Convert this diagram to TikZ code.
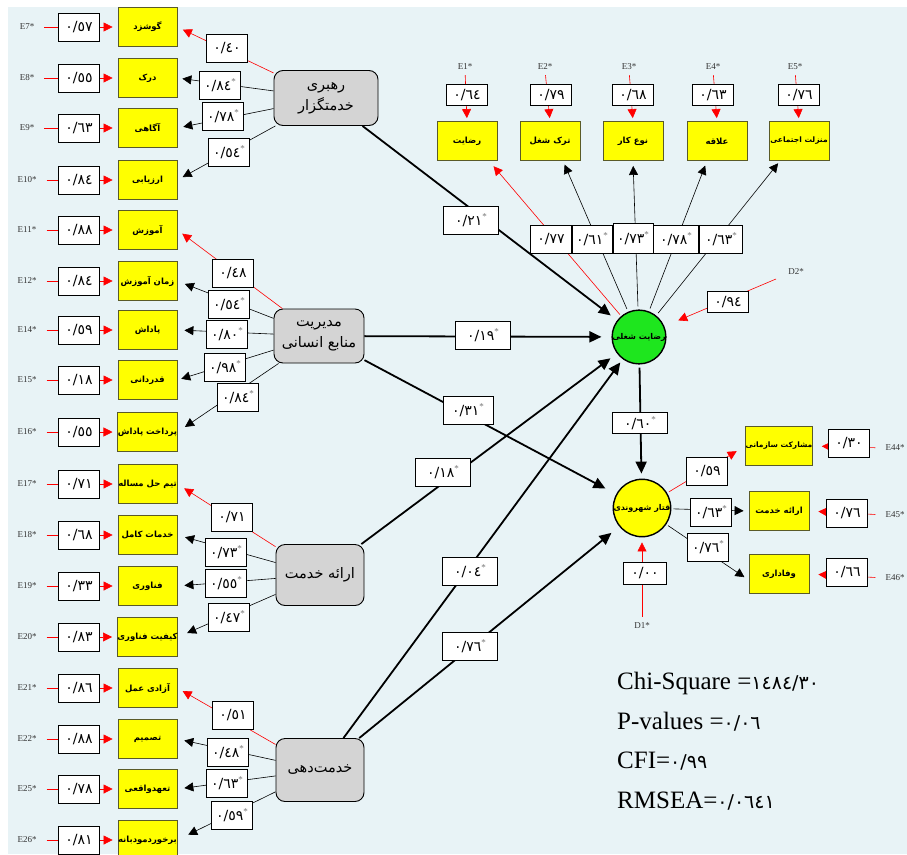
\documentclass[tikz,border=0pt]{standalone}
\usepackage{fontspec}
\setmainfont{Liberation Serif}
\newfontfamily\arfont[Script=Arabic]{DejaVu Sans}
\newfontfamily\digfont{DejaVu Sans}
\TeXXeTstate=1
\usetikzlibrary{arrows.meta,calc}
\definecolor{bgblue}{RGB}{232,243,246}
\definecolor{gridc}{RGB}{212,232,238}
\definecolor{latgray}{RGB}{212,212,212}
\definecolor{indyel}{RGB}{255,255,0}
\definecolor{indbrd}{RGB}{90,90,40}
\definecolor{cgreen}{RGB}{30,230,30}
\newcommand\artext[1]{{\arfont\beginR #1\endR}}
\newcommand\artextb[1]{{\arfont\bfseries\beginR #1\endR}}
\newcommand\vnum[1]{{\digfont #1}}
\newcommand\vstar[1]{{\digfont #1}\raisebox{0.9ex}{\fontsize{9}{9}\selectfont\color{black!55}*}}
\tikzset{
  ind/.style={draw=indbrd, line width=0.8pt, fill=indyel, minimum width=59pt, minimum height=39pt, inner sep=0pt, font=\fontsize{8.5}{9}\selectfont},
  val/.style={draw, line width=0.8pt, fill=white, inner sep=1pt, minimum width=41pt, minimum height=28pt, font=\fontsize{14}{14}\selectfont},
  sval/.style={draw, line width=0.8pt, fill=white, inner sep=1pt, minimum width=41pt, minimum height=21pt, font=\fontsize{14}{14}\selectfont},
  bval/.style={draw, line width=0.8pt, fill=white, inner sep=1pt, minimum width=55pt, minimum height=28pt, font=\fontsize{14}{14}\selectfont},
  lat/.style={draw, line width=0.9pt, fill=latgray, rounded corners=9pt, inner sep=0pt, align=center, font=\fontsize{14.5}{21}\selectfont},
  elab/.style={font=\fontsize{9}{9}\selectfont, text=black!80, inner sep=0pt},
  redarr/.style={red, line width=0.6pt, -{Triangle[length=9pt,width=9pt]}},
  blkarr/.style={black, line width=0.6pt, -{Triangle[length=9pt,width=9pt]}},
  patharr/.style={black, line width=1.8pt, -{Triangle[length=12pt,width=11pt]}},
  lv/.style={circle, draw, line width=1.4pt, minimum size=50pt, inner sep=0pt, font=\fontsize{8}{8}\selectfont}
}
\newcommand\leftrow[5]{%
  \node[ind] (i#1) at (147.5,#2) {{\arfont\bfseries #3}};
  \node[elab] (e#1) at (27,#2) {#5};
  \draw[redarr, shorten <=10pt, shorten >=5pt] (e#1.east) -- (i#1.west);
  \node[val] (v#1) at (79,#2) {\vnum{#4}};
}
\begin{document}
\begin{tikzpicture}[x=1pt,y=-1pt]
\useasboundingbox (0,0) rectangle (907,854);
\fill[white] (0,0) rectangle (907,854);
\fill[bgblue] (8,7) rectangle (907,854);
\draw[gridc, line width=0.5pt, step=10.3pt] (8,-7) grid (907,-854);

% left indicators
\leftrow{1}{27}{\beginR گوشزد\endR}{٠/٥٧}{E7*}
\leftrow{2}{78}{\beginR درک\endR}{٠/٥٥}{E8*}
\leftrow{3}{128}{\beginR آگاهی\endR}{٠/٦٣}{E9*}
\leftrow{4}{180}{\beginR ارزیابی\endR}{٠/٨٤}{E10*}
\leftrow{5}{230}{\beginR آموزش\endR}{٠/٨٨}{E11*}
\leftrow{6}{281}{\beginR زمان آموزش\endR}{٠/٨٤}{E12*}
\leftrow{7}{330}{\beginR پاداش\endR}{٠/٥٩}{E14*}
\leftrow{8}{380}{\beginR قدردانی\endR}{٠/١٨}{E15*}
\leftrow{9}{432}{\beginR پرداخت پاداش\endR}{٠/٥٥}{E16*}
\leftrow{10}{484}{\beginR تیم حل مساله\endR}{٠/٧١}{E17*}
\leftrow{11}{535}{\beginR خدمات کامل\endR}{٠/٦٨}{E18*}
\leftrow{12}{586}{\beginR فناوری\endR}{٠/٣٣}{E19*}
\leftrow{13}{637}{\beginR کیفیت فناوری\endR}{٠/٨٣}{E20*}
\leftrow{14}{688}{\beginR آزادی عمل\endR}{٠/٨٦}{E21*}
\leftrow{15}{739}{\beginR تصمیم\endR}{٠/٨٨}{E22*}
\leftrow{16}{789}{\beginR تعهدواقعی\endR}{٠/٧٨}{E25*}
\leftrow{17}{840}{\beginR برخوردمودبانه\endR}{٠/٨١}{E26*}

% latent variables
\node[lat, minimum width=104pt, minimum height=55pt] (l1) at (326,98) {\artext{رهبری}\\\artext{خدمتگزار}};
\node[lat, minimum width=90pt, minimum height=54pt] (l2) at (319,336) {\artext{مدیریت}\\\artext{منابع انسانی}};
\node[lat, minimum width=88pt, minimum height=61pt] (l3) at (320,575) {\artext{ارائه خدمت}};
\node[lat, minimum width=88pt, minimum height=63pt] (l4) at (320,770) {\artext{خدمت‌دهی}};

% endogenous latent variables
\node[lv, fill=cgreen] (c1) at (639,337) {\artextb{رضایت شغلی}};
\node[lv, fill=indyel] (c2) at (642,508) {\artextb{قتار شهروندی}};

% loadings of left groups
\draw[redarr, shorten >=6pt] (l1) -- (i1.east);
\draw[blkarr, shorten >=5pt] (l1) -- (i2.east);
\draw[blkarr, shorten >=6pt] (l1) -- (i3.east);
\draw[blkarr, shorten >=6pt] (l1) -- (i4.east);
\node[val] (a1) at (227,48) {\vnum{٠/٤٠}};
\node[val] (a2) at (220,85) {\vstar{٠/٨٤}};
\node[val] (a3) at (223,116) {\vstar{٠/٧٨}};
\node[val] (a4) at (229,152) {\vstar{٠/٥٤}};

\draw[redarr, shorten >=6pt] (l2) -- (i5.east);
\draw[blkarr, shorten >=8pt] (l2) -- (i6.east);
\draw[blkarr, shorten >=7pt] (l2) -- (i7.east);
\draw[blkarr, shorten >=4pt] (l2) -- (i8.east);
\draw[blkarr, shorten >=9pt] (l2) -- (i9.east);
\node[val] (a5) at (233,273) {\vnum{٠/٤٨}};
\node[val] (a6) at (229,304) {\vstar{٠/٥٤}};
\node[val] (a7) at (227,334) {\vstar{٠/٨٠}};
\node[val] (a8) at (225,367) {\vstar{٠/٩٨}};
\node[val] (a9) at (238,397) {\vstar{٠/٨٤}};

\draw[redarr, shorten >=8pt] (l3) -- (i10.east);
\draw[blkarr, shorten >=8pt] (l3) -- (i11.east);
\draw[blkarr, shorten >=7pt] (l3) -- (i12.east);
\draw[blkarr, shorten >=10pt] (l3) -- (i13.east);
\node[val] (a10) at (232,517) {\vnum{٠/٧١}};
\node[val] (a11) at (226,552) {\vstar{٠/٧٣}};
\node[val] (a12) at (226,583) {\vstar{٠/٥٥}};
\node[val] (a13) at (229,617) {\vstar{٠/٤٧}};

\draw[redarr, shorten >=6pt] (l4) -- (i14.east);
\draw[blkarr, shorten >=7pt] (l4) -- (i15.east);
\draw[blkarr, shorten >=7pt] (l4) -- (i16.east);
\draw[blkarr, shorten >=12pt] (l4) -- (i17.east);
\node[val] (a14) at (233,715) {\vnum{٠/٥١}};
\node[val] (a15) at (228,752) {\vstar{٠/٤٨}};
\node[val] (a16) at (227,783) {\vstar{٠/٦٣}};
\node[val] (a17) at (232,815) {\vstar{٠/٥٩}};

% structural paths
\draw[patharr, shorten >=8pt] (l1) -- (c1);
\draw[patharr, shorten >=10pt] (l2) -- (c1);
\draw[patharr, shorten >=12pt] (l2) -- (c2);
\draw[patharr, shorten >=8pt] (l3) -- (c1);
\draw[patharr, shorten >=4pt] (l4) -- (c1);
\draw[patharr, shorten >=10pt] (l4) -- (c2);
\draw[patharr, shorten <=3pt, shorten >=5pt] (c1) -- (c2);
\node[bval] (p1) at (471,220) {\vstar{٠/٢١}};
\node[bval] (p2) at (483,335) {\vstar{٠/١٩}};
\node[bval, minimum width=50pt] (p3) at (468,410) {\vstar{٠/٣١}};
\node[bval] (p4) at (443,472) {\vstar{٠/١٨}};
\node[bval] (p5) at (470,571) {\vstar{٠/٠٤}};
\node[bval] (p6) at (470,646) {\vstar{٠/٧٦}};
\node[bval, minimum height=21pt] (p7) at (640,423) {\vstar{٠/٦٠}};

% top indicators of c1
\node[ind, minimum width=60pt] (t1) at (467,141) {\artextb{رضایت}};
\node[ind, minimum width=60pt] (t2) at (550,141) {\artextb{ترک شغل}};
\node[ind, minimum width=60pt] (t3) at (633,141) {\artextb{نوع کار}};
\node[ind, minimum width=60pt] (t4) at (717,141) {\artextb{علاقه}};
\node[ind, minimum width=60pt, font=\fontsize{7.5}{9}\selectfont] (t5) at (799,141) {\artextb{منزلت اجتماعی}};
\node[elab] (te1) at (465,67) {E1*};
\node[elab] (te2) at (545,67) {E2*};
\node[elab] (te3) at (629,67) {E3*};
\node[elab] (te4) at (713,67) {E4*};
\node[elab] (te5) at (795,67) {E5*};
\draw[redarr, shorten <=5pt, shorten >=3pt] (te1.south) -- (t1.north);
\draw[redarr, shorten <=5pt, shorten >=3pt] (te2.south) -- (t2.north);
\draw[redarr, shorten <=5pt, shorten >=3pt] (te3.south) -- (t3.north);
\draw[redarr, shorten <=5pt, shorten >=3pt] (te4.south) -- (t4.north);
\draw[redarr, shorten <=5pt, shorten >=3pt] (te5.south) -- (t5.north);
\node[sval] (tv1) at (467,95) {\vnum{٠/٦٤}};
\node[sval] (tv2) at (551,95) {\vnum{٠/٧٩}};
\node[sval] (tv3) at (633,95) {\vnum{٠/٦٨}};
\node[sval] (tv4) at (713,95) {\vnum{٠/٦٣}};
\node[sval] (tv5) at (799,95) {\vnum{٠/٧٦}};

\draw[redarr, shorten <=2pt, shorten >=7pt] (c1) -- ([xshift=22pt]t1.south);
\draw[blkarr, shorten <=3pt, shorten >=4pt] (c1) -- ([xshift=13pt]t2.south);
\draw[blkarr, shorten <=3pt, shorten >=5pt] (c1) -- (t3.south);
\draw[blkarr, shorten <=3pt, shorten >=5pt] (c1) -- ([xshift=-10pt]t4.south);
\draw[blkarr, shorten <=3pt, shorten >=3pt] (c1) -- ([xshift=-19pt]t5.south);
\node[val, minimum width=41pt] (u1) at (551,239) {\vnum{٠/٧٧}};
\node[val, minimum width=40pt] (u2) at (592,239) {\vstar{٠/٦١}};
\node[val, minimum width=40pt, minimum height=30pt] (u3) at (633,238) {\vstar{٠/٧٣}};
\node[val, minimum width=45pt] (u4) at (676,239) {\vstar{٠/٧٨}};
\node[val, minimum width=43pt] (u5) at (721,239) {\vstar{٠/٦٣}};

% disturbances
\node[elab] (d2) at (796,272) {D2*};
\coordinate (d2s) at (776,279);
\draw[redarr, shorten >=15pt] (d2s) -- (c1);
\node[sval] (d2v) at (728,302) {\vnum{٠/٩٤}};
\node[elab] (d1) at (642,626) {D1*};
\draw[redarr, shorten <=6pt, shorten >=5pt] (d1.north) -- (c2.south);
\node[sval, minimum width=43pt, minimum height=22pt] (d1v) at (645,573) {\vnum{٠/٠٠}};

% right indicators of c2
\node[ind, minimum width=60pt, font=\fontsize{7.5}{9}\selectfont] (r1) at (779,446) {\artextb{مشارکت سازمانی}};
\node[ind, minimum width=60pt] (r2) at (779,511) {\artextb{ارائه خدمت}};
\node[ind, minimum width=60pt] (r3) at (779,574) {\artextb{وفاداری}};
\node[elab] (re1) at (895,448) {E44*};
\node[elab] (re2) at (895,515) {E45*};
\node[elab] (re3) at (895,578) {E46*};
\draw[redarr, shorten <=10pt, shorten >=9pt] (re1.west) -- (r1.east);
\draw[redarr, shorten <=10pt, shorten >=9pt] (re2.west) -- (r2.east);
\draw[redarr, shorten <=10pt, shorten >=9pt] (re3.west) -- (r3.east);
\node[val] (rv1) at (849,443) {\vnum{٠/٣٠}};
\node[val] (rv2) at (847,513) {\vnum{٠/٧٦}};
\node[val] (rv3) at (847,572) {\vnum{٠/٦٦}};

\draw[redarr, shorten <=2pt, shorten >=10pt] (c2) -- (r1.west);
\draw[blkarr, shorten <=2pt, shorten >=5pt] (c2) -- (r2.west);
\draw[blkarr, shorten <=2pt, shorten >=5pt] (c2) -- ([yshift=-6pt]r3.west);
\node[val] (w1) at (707,471) {\vnum{٠/٥٩}};
\node[val] (w2) at (711,512) {\vstar{٠/٦٣}};
\node[val] (w3) at (708,547) {\vstar{٠/٧٦}};

% fit statistics
\node[anchor=west, inner sep=0pt, font=\fontsize{25}{25}\selectfont] (s1) at (617,683) {Chi-Square =\vnum{\fontsize{19}{19}\selectfont ١٤٨٤/٣٠}};
\node[anchor=west, inner sep=0pt, font=\fontsize{25}{25}\selectfont] (s2) at (617,722) {P-values =\vnum{\fontsize{19}{19}\selectfont ٠/٠٦}};
\node[anchor=west, inner sep=0pt, font=\fontsize{25}{25}\selectfont] (s3) at (617,761) {CFI=\vnum{\fontsize{19}{19}\selectfont ٠/٩٩}};
\node[anchor=west, inner sep=0pt, font=\fontsize{25}{25}\selectfont] (s4) at (617,801) {RMSEA=\vnum{\fontsize{19}{19}\selectfont ٠/٠٦٤١}};
\end{tikzpicture}
\end{document}
